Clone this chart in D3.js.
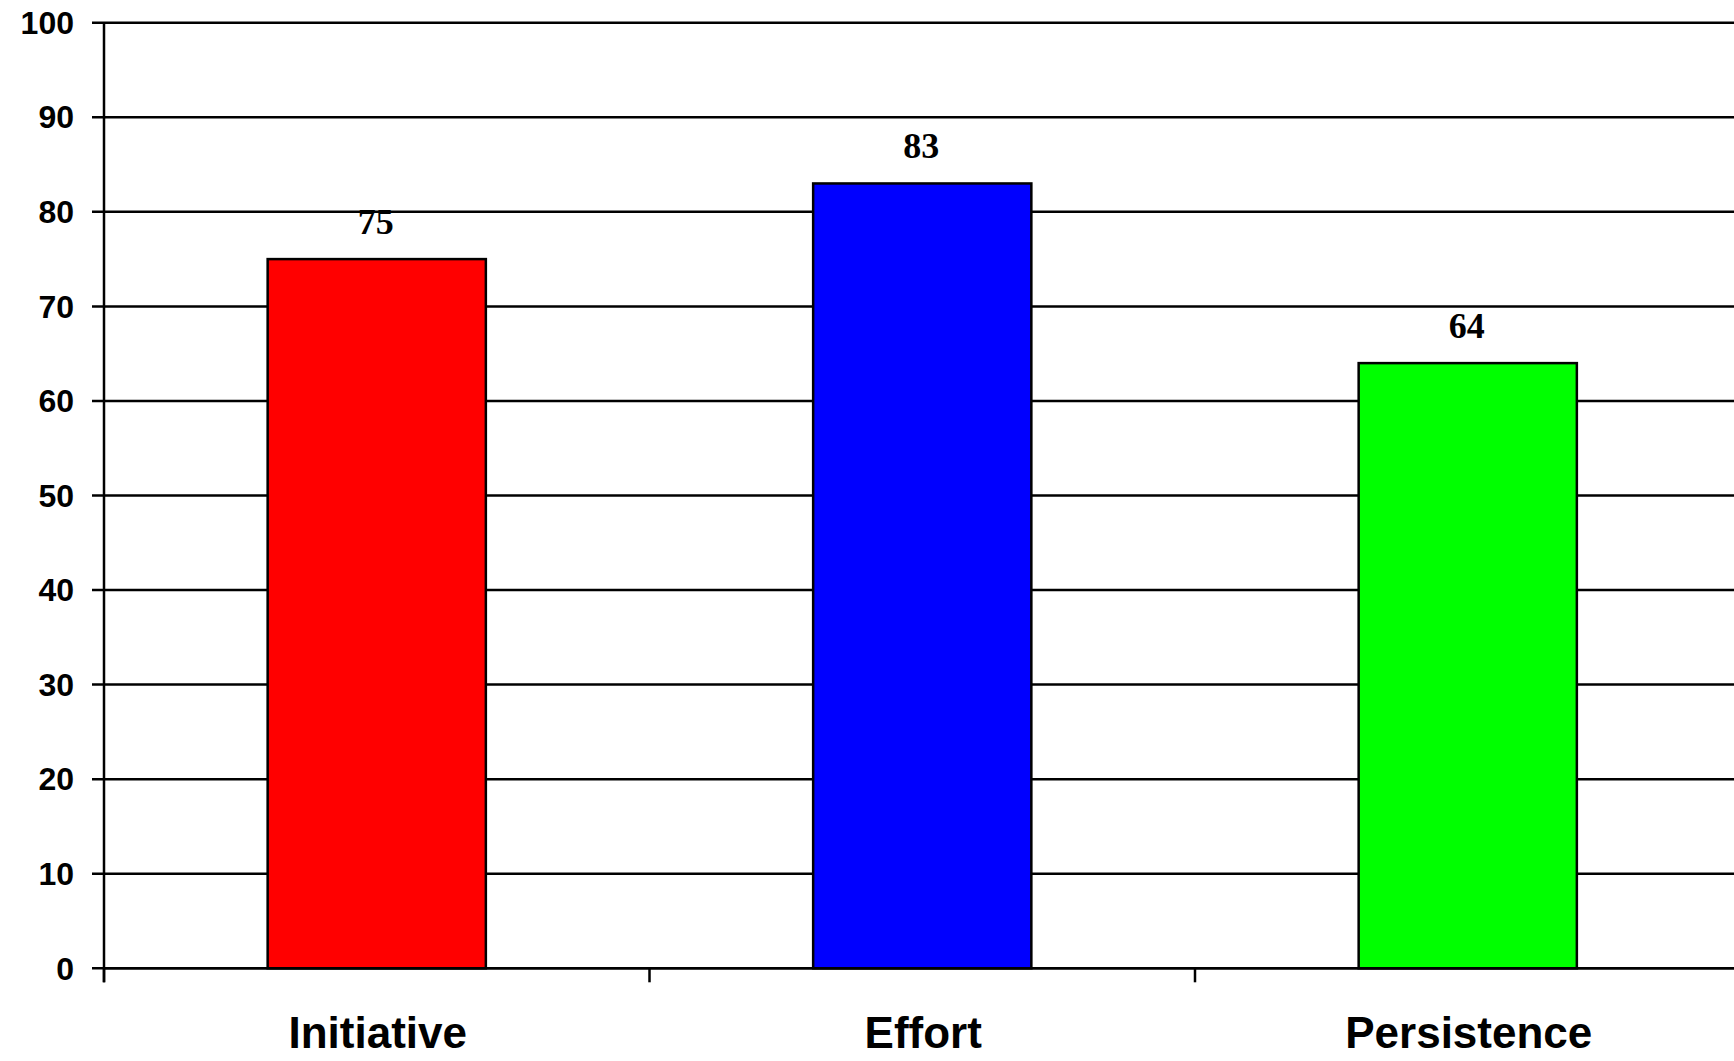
<!DOCTYPE html>
<html>
<head>
<meta charset="utf-8">
<script src="https://cdn.jsdelivr.net/npm/d3@7"></script>
<style>
  body { margin: 0; background: #fff; }
  svg { display: block; }
</style>
</head>
<body>
<svg id="chart" width="1734" height="1061"></svg>
<script>
var categories = ["Initiative", "Effort", "Persistence"];
var values = [75, 83, 64];
var barColors = ["#ff0000", "#0000ff", "#00ff00"];
var yTicks = [0, 10, 20, 30, 40, 50, 60, 70, 80, 90, 100];

var svg = d3.select("#chart"),
    plotLeft = 104,
    plotTop = 22.7,
    plotBottom = 968.3,
    step = 545.5;

var xScale = d3.scaleBand()
    .domain(categories)
    .range([plotLeft, plotLeft + step * categories.length])
    .paddingInner(0.6)
    .paddingOuter(0.3);

var yScale = d3.scaleLinear().domain([0, 100]).range([plotBottom, plotTop]);

// horizontal gridlines (with the little left tick)
svg.append("g")
    .selectAll("line")
    .data(yTicks)
    .enter().append("line")
    .attr("x1", plotLeft - 12)
    .attr("x2", 1734)
    .attr("y1", function(d) { return yScale(d); })
    .attr("y2", function(d) { return yScale(d); })
    .attr("stroke", "#000")
    .attr("stroke-width", 2.5);

// y tick labels
svg.append("g")
    .selectAll("text")
    .data(yTicks)
    .enter().append("text")
    .attr("x", plotLeft - 30)
    .attr("y", function(d) { return yScale(d); })
    .attr("dy", "0.35em")
    .attr("text-anchor", "end")
    .attr("font-family", "Liberation Sans, Arial, sans-serif")
    .attr("font-weight", "bold")
    .attr("font-size", 32)
    .text(function(d) { return d; });

// bars
svg.selectAll(".bar")
    .data(values)
    .enter().append("rect")
    .attr("class", "bar")
    .attr("x", function(d, i) { return xScale(categories[i]); })
    .attr("y", function(d) { return yScale(d); })
    .attr("width", xScale.bandwidth())
    .attr("height", function(d) { return plotBottom - yScale(d); })
    .attr("fill", function(d, i) { return barColors[i]; })
    .attr("stroke", "#000")
    .attr("stroke-width", 2.5);

// value labels
svg.selectAll(".val")
    .data(values)
    .enter().append("text")
    .attr("class", "val")
    .attr("x", function(d, i) { return xScale(categories[i]) + xScale.bandwidth() / 2 - 1; })
    .attr("y", function(d) { return yScale(d) - 25; })
    .attr("text-anchor", "middle")
    .attr("font-family", "Liberation Serif, Times New Roman, serif")
    .attr("font-weight", "bold")
    .attr("font-size", 36)
    .text(function(d) { return d; });

// x axis line redrawn over the bar bottoms
svg.append("line")
    .attr("x1", plotLeft).attr("x2", 1734)
    .attr("y1", plotBottom).attr("y2", plotBottom)
    .attr("stroke", "#000").attr("stroke-width", 2.5);

// y axis line
svg.append("line")
    .attr("x1", plotLeft).attr("x2", plotLeft)
    .attr("y1", plotTop).attr("y2", plotBottom + 14)
    .attr("stroke", "#000").attr("stroke-width", 2.5);

// x ticks between categories
svg.append("g")
    .selectAll("line")
    .data(categories)
    .enter().append("line")
    .attr("x1", function(d, i) { return plotLeft + i * xScale.step(); })
    .attr("x2", function(d, i) { return plotLeft + i * xScale.step(); })
    .attr("y1", plotBottom)
    .attr("y2", plotBottom + 14)
    .attr("stroke", "#000")
    .attr("stroke-width", 2.5);

// category labels
svg.selectAll(".cat")
    .data(categories)
    .enter().append("text")
    .attr("class", "cat")
    .attr("x", function(d) { return xScale(d) + xScale.bandwidth() / 2 + 1; })
    .attr("y", 1048)
    .attr("text-anchor", "middle")
    .attr("font-family", "Liberation Sans, Arial, sans-serif")
    .attr("font-weight", "bold")
    .attr("font-size", 44)
    .text(function(d) { return d; });
</script>
</body>
</html>
